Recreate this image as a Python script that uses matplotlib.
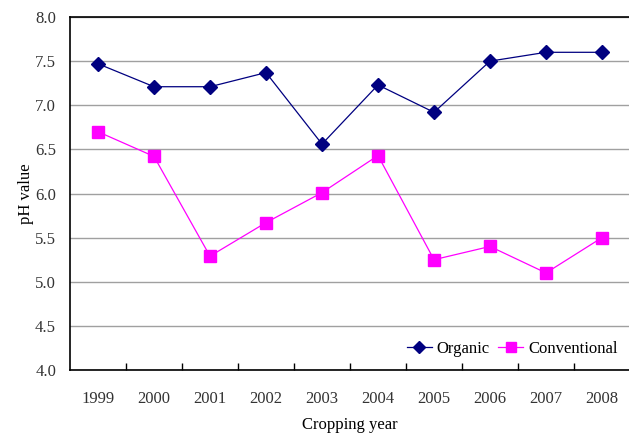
import numpy as np
import matplotlib.pyplot as plt

plt.rcParams['font.family'] = ['Liberation Serif', 'DejaVu Serif']

years = ['1999', '2000', '2001', '2002', '2003', '2004', '2005', '2006', '2007', '2008']
organic = [7.47, 7.21, 7.21, 7.37, 6.56, 7.23, 6.92, 7.50, 7.60, 7.60]
conventional = [6.70, 6.42, 5.29, 5.67, 6.01, 6.43, 5.25, 5.40, 5.10, 5.50]

fig = plt.figure(figsize=(6.29, 4.37), dpi=100)
ax = fig.add_axes([70/629, 67/437, 560/629, 353/437])

x = np.arange(len(years))
ax.plot(x, organic, color='#000080', lw=0.9, marker='D', ms=7, label='Organic')
ax.plot(x, conventional, color='#ff00ff', lw=0.9, marker='s', ms=8.5, label='Conventional')

ax.set_xlim(-0.5, len(years) - 0.5)
ax.set_ylim(4.0, 8.0)
ax.set_yticks(np.arange(4.0, 8.01, 0.5))
ax.set_yticklabels([f'{v:.1f}' for v in np.arange(4.0, 8.01, 0.5)], fontsize=12, color='#333333')
ax.tick_params(axis='y', length=0, pad=10)
ax.yaxis.grid(True, color='#a0a0a0', lw=1)
ax.set_axisbelow(True)

ax.set_xticks(x)
ax.set_xticklabels(years, fontsize=12, color='#333333')
ax.tick_params(axis='x', which='major', length=0, pad=15)
ax.set_xticks(np.arange(0.5, len(years) - 0.5, 1), minor=True)
ax.tick_params(axis='x', which='minor', direction='in', length=5, width=1, color='black')

for s in ['left', 'bottom', 'top']:
    ax.spines[s].set_linewidth(1.2)
ax.spines['right'].set_visible(False)

ax.set_xlabel('Cropping year', fontsize=12)
ax.set_ylabel('pH value', fontsize=12)
ax.xaxis.set_label_coords(0.5, -0.133)
ax.yaxis.set_label_coords(-0.065, 0.5)

ax.legend(loc='lower right', bbox_to_anchor=(1.005, -0.005), ncol=2, frameon=False,
          fontsize=12, handlelength=1.5, columnspacing=0.5, handletextpad=0.3,
          markerscale=0.9)

fig.savefig('out.png', dpi=100)
